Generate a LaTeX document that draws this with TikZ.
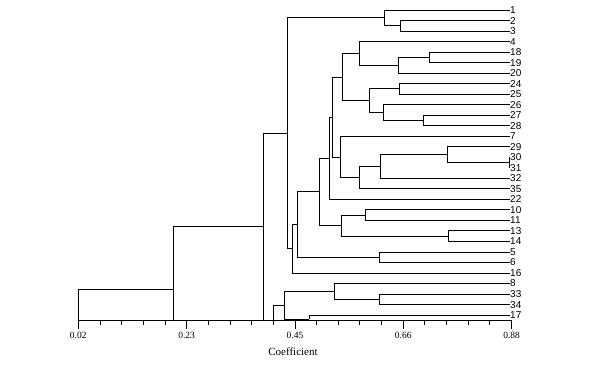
\documentclass[tikz,border=0pt]{standalone}
\usepackage{fontspec}
\setmainfont{Liberation Serif}
\newfontfamily\leaffont{Liberation Sans}
\begin{document}
\begin{tikzpicture}[x=1pt,y=-1pt,
  br/.style={line width=0.9pt, black},
  leaf/.style={anchor=west, inner sep=0.5pt, font=\leaffont\fontsize{10}{10}\selectfont},
  ticklab/.style={font=\fontsize{9.5}{10}\selectfont, inner sep=0pt},
  axlab/.style={font=\fontsize{11}{12}\selectfont, inner sep=0pt}]
\useasboundingbox (0,0) rectangle (592,365);
% leaf labels
\foreach \n/\i in {1/0,2/1,3/2,4/3,18/4,19/5,20/6,24/7,25/8,26/9,27/10,28/11,7/12,29/13,30/14,31/15,32/16,35/17,22/18,10/19,11/20,13/21,14/22,5/23,6/24,16/25,8/26,33/27,34/28,17/29}
  \node[leaf] (L\n) at (509.5,{10+10.52*\i}) {\n};
% junctions
\coordinate (jA) at (400.3,25.78);
\coordinate (jB) at (384.3,17.89);
\coordinate (jC) at (429.3,57.34);
\coordinate (jD) at (398.3,65.23);
\coordinate (jE) at (359.3,53.40);
\coordinate (jF) at (399.3,88.90);
\coordinate (jG) at (423.3,120.46);
\coordinate (jH) at (383.3,112.57);
\coordinate (jI) at (369.3,100.74);
\coordinate (jJ) at (342.3,77.07);
\coordinate (jK) at (509.5,162.54);
\coordinate (jL) at (447.3,154.65);
\coordinate (jM) at (380.0,166.49);
\coordinate (jN) at (359.3,177.67);
\coordinate (jO) at (340.0,156.95);
\coordinate (jP) at (332.3,117.01);
\coordinate (jQ) at (329.0,158.19);
\coordinate (jR) at (365.7,215.14);
\coordinate (jS) at (448.3,236.18);
\coordinate (jT) at (341.0,225.66);
\coordinate (jU) at (319.3,191.93);
\coordinate (jV) at (379.3,257.22);
\coordinate (jW) at (297.3,224.57);
\coordinate (jX) at (292.0,248.79);
\coordinate (jY) at (287.3,133.34);
\coordinate (jZ) at (379.3,299.30);
\coordinate (jAA) at (334.0,291.41);
\coordinate (s17) at (309.0,319.3);
\coordinate (jBB) at (284.3,305.5);
\coordinate (jCC) at (273.3,320.5);
\coordinate (jDD) at (263.3,226.9);
\coordinate (jEE) at (173.3,289.0);
\coordinate (jEEb) at (173.3,320.5);
\coordinate (jRT) at (78.3,320.5);
\coordinate (ax1) at (511.6,320.5);
% tree
\draw[br] (L2.west) -| (jA) (L3.west) -| (jA);
\draw[br] (L1.west) -| (jB) (jA) -| (jB);
\draw[br] (L18.west) -| (jC) (L19.west) -| (jC);
\draw[br] (jC) -| (jD) (L20.west) -| (jD);
\draw[br] (L4.west) -| (jE) (jD) -| (jE);
\draw[br] (L24.west) -| (jF) (L25.west) -| (jF);
\draw[br] (L27.west) -| (jG) (L28.west) -| (jG);
\draw[br] (L26.west) -| (jH) (jG) -| (jH);
\draw[br] (jF) -| (jI) (jH) -| (jI);
\draw[br] (jE) -| (jJ) (jI) -| (jJ);
\draw[br] (L30.west) -| (jK) (L31.west) -| (jK);
\draw[br] (L29.west) -| (jL) (jK) -| (jL);
\draw[br] (jL) -| (jM) (L32.west) -| (jM);
\draw[br] (jM) -| (jN) (L35.west) -| (jN);
\draw[br] (L7.west) -| (jO) (jN) -| (jO);
\draw[br] (jJ) -| (jP) (jO) -| (jP);
\draw[br] (jP) -| (jQ) (L22.west) -| (jQ);
\draw[br] (L10.west) -| (jR) (L11.west) -| (jR);
\draw[br] (L13.west) -| (jS) (L14.west) -| (jS);
\draw[br] (jR) -| (jT) (jS) -| (jT);
\draw[br] (jQ) -| (jU) (jT) -| (jU);
\draw[br] (L5.west) -| (jV) (L6.west) -| (jV);
\draw[br] (jU) -| (jW) (jV) -| (jW);
\draw[br] (jW) -| (jX) (L16.west) -| (jX);
\draw[br] (jB) -| (jY) (jX) -| (jY);
\draw[br] (L33.west) -| (jZ) (L34.west) -| (jZ);
\draw[br] (L8.west) -| (jAA) (jZ) -| (jAA);
\draw[br] (L17.west) -| (s17) (s17) -| (jBB) (jAA) -| (jBB);
\draw[br] (jBB) -| (jCC);
\draw[br] (jY) -| (jDD) (jCC) -| (jDD);
\draw[br] (jDD) -| (jEE) (jEE) -- (jEEb);
\draw[br] (jEE) -| (jRT);
% axis
\draw[br] (jRT) -- (ax1);
\foreach \j in {1,2,3,4,6,7,8,9,11,12,13,14,16,17,18,19}
  \draw[br] ({78.3+21.665*\j},320.5) -- ({78.3+21.665*\j},325);
\foreach \j in {0,5,10,15,20}
  \draw[br] ({78.3+21.665*\j},320.5) -- ({78.3+21.665*\j},329);
\node[ticklab] (t1) at (78.3,335) {0.02};
\node[ticklab] (t2) at (186.6,335) {0.23};
\node[ticklab] (t3) at (294.95,335) {0.45};
\node[ticklab] (t4) at (403.3,335) {0.66};
\node[ticklab] (t5) at (511.6,335) {0.88};
\node[axlab] (coef) at (293,351.5) {Coefficient};
\end{tikzpicture}
\end{document}
